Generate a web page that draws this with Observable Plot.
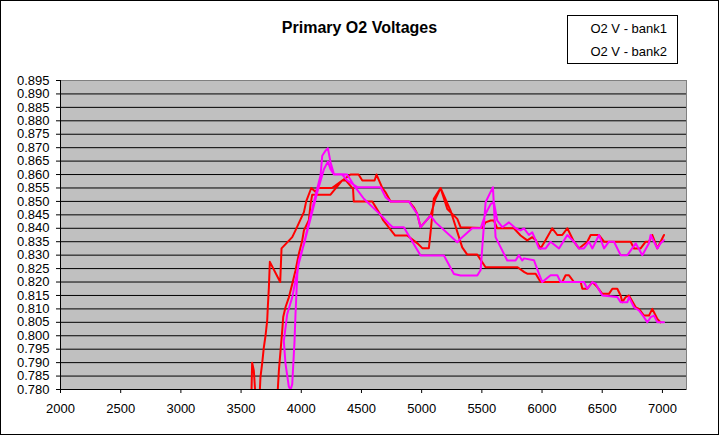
<!DOCTYPE html>
<html><head><meta charset="utf-8">
<script src="https://cdn.jsdelivr.net/npm/d3@7"></script>
<script src="https://cdn.jsdelivr.net/npm/@observablehq/plot@0.6"></script>
<style>
html,body{margin:0;padding:0;background:#fff;}
#wrap{position:relative;width:719px;height:435px;overflow:hidden;font-family:"Liberation Sans",Arial,sans-serif;color:#000;}
#wrap svg{position:absolute;left:0;top:0;}
#border{position:absolute;left:0;top:0;width:719px;height:435px;box-sizing:border-box;border:1px solid #000;pointer-events:none;}
#title{position:absolute;left:0;top:20px;width:719px;text-align:center;font-weight:bold;font-size:16px;line-height:16px;}
#legend{position:absolute;left:567px;top:15px;width:111px;height:49px;box-sizing:border-box;border:1px solid #000;background:#fff;}
.leg{position:absolute;right:53px;font-size:13px;line-height:13px;white-space:nowrap;}
</style>
</head><body>
<div id="wrap">
  <div id="title"></div>
  <div id="legend"></div>
  <div id="border"></div>
</div>
<script>
const chartTitle = "Primary O2 Voltages";
const seriesNames = ["O2 V - bank1", "O2 V - bank2"];
const seriesColors = ["#FF0000", "#FF00FF"];
const xTicks = [2000, 2500, 3000, 3500, 4000, 4500, 5000, 5500, 6000, 6500, 7000];
const yTicks = [0.780, 0.785, 0.790, 0.795, 0.800, 0.805, 0.810, 0.815, 0.820, 0.825, 0.830, 0.835, 0.840, 0.845, 0.850, 0.855, 0.860, 0.865, 0.870, 0.875, 0.880, 0.885, 0.890, 0.895];

// bank1 (two runs separated by null)
const bank1Rpm = [3582,3592,3606,3622,3638,3653,3661,3675,3689,3703,3717,3722,3731,3739,3825,3836,3925,3952,4022,4041,4083,4120,4135,4255,4340,4370,4430,4436,4590,4660,4680,4780,4880,4970,5005,5060,5074,5101,5157,5240,5337,5379,5462,5531,5797,5853,5877,5947,5988,6168,6196,6224,6265,6321,6335,6376,6418,6459,6501,6556,6584,6625,6653,6667,6695,6722,6778,6805,6847,6888,6916,6958,6985,
  null,
  3790,3805,3814,3842,3850,3869,3897,3925,3952,3980,4008,4022,4063,4077,4091,4243,4340,4409,4476,4507,4609,4625,4673,4700,4742,4894,4935,4963,4991,5074,5115,5157,5213,5296,5323,5504,5531,5573,5600,5628,5766,5822,5877,5919,5947,5988,6030,6085,6127,6168,6210,6265,6307,6376,6404,6473,6515,6736,6764,6819,6861,6888,6916,6958,6985,7013];
const bank1Volt = [0.770,0.790,0.787,0.776,0.772,0.777,0.7846,0.7896,0.7957,0.800,0.8057,0.8106,0.818,0.8275,0.820,0.8325,0.8367,0.8392,0.846,0.850,0.855,0.8535,0.855,0.855,0.8578,0.8578,0.8547,0.850,0.850,0.8448,0.843,0.8373,0.8373,0.8342,0.8326,0.8326,0.8385,0.851,0.855,0.8466,0.8329,0.8302,0.8302,0.8255,0.8255,0.8237,0.8231,0.8231,0.820,0.820,0.8225,0.8225,0.820,0.820,0.8175,0.8175,0.820,0.8181,0.8156,0.8156,0.8175,0.8175,0.815,0.8125,0.8144,0.815,0.8106,0.810,0.8075,0.8075,0.810,0.80625,0.805,
  null,
  0.770,0.780,0.787,0.802,0.807,0.8106,0.8143,0.8193,0.8243,0.8305,0.8355,0.8392,0.843,0.849,0.8525,0.8525,0.8578,0.860,0.860,0.8578,0.8578,0.860,0.855,0.8534,0.850,0.850,0.8478,0.8454,0.8404,0.8447,0.851,0.855,0.8472,0.8435,0.8404,0.8401,0.8422,0.8429,0.8429,0.840,0.840,0.8373,0.8355,0.8367,0.8356,0.8325,0.8356,0.840,0.8375,0.8375,0.840,0.835,0.8325,0.835,0.8375,0.8375,0.835,0.835,0.8325,0.8325,0.835,0.835,0.8375,0.8325,0.835,0.8375];

// bank2 (one continuous trace: down the lower run, through the dip, up the upper run)
const bank2Rpm = [7013,6958,6930,6902,6875,6847,6805,6764,6722,6709,6653,6625,6501,6445,6418,6376,6348,6154,6127,6071,6002,5974,5933,5850,5835,5808,5780,5711,5614,5592,5531,5490,5462,5323,5268,5185,4991,4852,4760,4728,4659,4520,4437,4382,4271,4243,4221,
  4202,4174,4160,4104,4008,3980,3952,3925,3883,3855,3869,3897,3905,3915,
  3925,3944,3952,3967,3980,4022,4133,4188,4221,4243,4271,4340,4382,4465,4659,4700,4742,4894,4935,4963,4991,5074,5116,5296,5323,5420,5490,5531,5573,5600,5628,5670,5725,5780,5822,5850,5891,5919,5947,5974,6030,6071,6141,6210,6265,6307,6348,6390,6418,6473,6515,6556,6598,6653,6709,6778,6833,6888,6902,6958,6985,7013];
const bank2Volt = [0.805,0.805,0.8075,0.8069,0.805,0.8069,0.8094,0.8106,0.8144,0.8125,0.8125,0.8144,0.815,0.8194,0.820,0.8175,0.820,0.820,0.8225,0.8225,0.820,0.8231,0.8281,0.8288,0.828,0.830,0.828,0.828,0.8367,0.8553,0.8497,0.8245,0.8224,0.8224,0.823,0.8299,0.8299,0.8404,0.8404,0.8417,0.845,0.851,0.856,0.860,0.8602,0.8646,0.8698,
  0.8689,0.867,0.8596,0.8497,0.8317,0.827,0.8206,0.8143,0.808,0.798,0.7896,0.781,0.7805,0.7805,
  0.782,0.798,0.808,0.823,0.828,0.834,0.8534,0.862,0.8648,0.862,0.860,0.860,0.8578,0.8553,0.8553,0.8516,0.850,0.850,0.8472,0.8454,0.8404,0.8447,0.8422,0.8348,0.8361,0.840,0.840,0.8454,0.849,0.8497,0.8429,0.8404,0.8422,0.840,0.8392,0.840,0.8375,0.8385,0.8356,0.8325,0.8325,0.835,0.8325,0.8375,0.835,0.8325,0.8325,0.835,0.8325,0.8375,0.8325,0.835,0.835,0.830,0.830,0.8344,0.830,0.8344,0.8375,0.8325,0.8344,0.8356];

const toRows = (rpm, volt) => rpm.map((r, i) => ({rpm: r, volt: volt[i]}));
const bank1 = toRows(bank1Rpm, bank1Volt);
const bank2 = toRows(bank2Rpm, bank2Volt);

const gridTicks = yTicks.filter(v => v > 0.7801 && v < 0.8949);

const chart = Plot.plot({
  width: 719,
  height: 435,
  marginLeft: 60,
  marginRight: 33,
  marginTop: 80,
  marginBottom: 46,
  style: {background: "transparent", fontFamily: "'Liberation Sans', Arial, sans-serif", fontSize: "13px", color: "#000", overflow: "visible"},
  x: {type: "linear", domain: [2000, 7200]},
  y: {type: "linear", domain: [0.780, 0.895]},
  marks: [
    Plot.frame({fill: "#C0C0C0", stroke: "#808080", strokeWidth: 1}),
    Plot.gridY(gridTicks, {stroke: "#000", strokeOpacity: 1, strokeWidth: 1}),
    Plot.line(bank1, {x: "rpm", y: "volt", stroke: seriesColors[0], strokeWidth: 2, clip: true}),
    Plot.line(bank2, {x: "rpm", y: "volt", stroke: seriesColors[1], strokeWidth: 2, clip: true}),
    Plot.ruleX([2000], {stroke: "#000", strokeWidth: 1}),
    Plot.ruleY([0.780], {stroke: "#000", strokeWidth: 1}),
    Plot.axisX(xTicks, {tickSize: 4, tickPadding: 10, tickFormat: d => String(d), label: null, fontSize: 13, stroke: "#000"}),
    Plot.axisY(yTicks, {tickSize: 4, tickPadding: 7, tickFormat: d3.format(".3f"), label: null, fontSize: 13, stroke: "#000"})
  ]
});

const wrap = document.getElementById("wrap");
wrap.insertBefore(chart, wrap.firstChild);
document.getElementById("title").textContent = chartTitle;
const legend = document.getElementById("legend");
seriesNames.forEach((name, i) => {
  const d = document.createElement("div");
  d.className = "leg";
  d.style.top = (i === 0 ? 6 : 29) + "px";
  d.style.right = "10px";
  d.textContent = name;
  legend.appendChild(d);
});
</script>
</body></html>
